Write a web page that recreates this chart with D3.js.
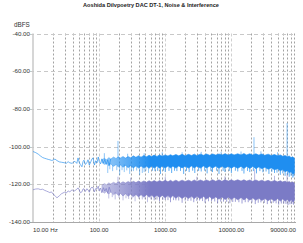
<!DOCTYPE html>
<html><head><meta charset="utf-8">
<script src="https://cdn.jsdelivr.net/npm/d3@7"></script>
<style>body{margin:0;background:#fff}svg{display:block}</style>
</head><body><svg id="c" width="303" height="243"></svg>
<script>
const title = "Aoshida Dilvpoetry DAC DT-1, Noise & Interference";
const yUnit = "dBFS";
const yTicks = [-40, -60, -80, -100, -120, -140];
const yTickLabels = ["-40.00", "-60.00", "-80.00", "-100.00", "-120.00", "-140.00"];
const xTicks = [10, 100, 1000, 10000, 90000];
const xTickLabels = ["10.00 Hz", "100.00", "1000.00", "10000.00", "90000.00"];

// low-frequency traces (Hz, dBFS)
const lowFreq   = [10, 11, 12, 13, 14, 15, 16, 17, 18, 19, 20, 21.5, 23, 25, 27, 30, 32, 34, 36, 39, 41, 43, 46, 48, 50, 52, 55, 57, 59, 62, 65, 68, 71, 75, 78, 81, 85, 89, 93, 97, 100, 105, 110, 116, 122, 128, 135, 142, 150];
const blueLow   = [-102.6, -103.2, -104, -105, -105.8, -106.2, -106.5, -106.8, -107, -107.3, -107.2, -106.6, -107.4, -108.1, -108.3, -108.6, -108.8, -108.0, -108.6, -108.9, -108.2, -107.8, -108.9, -106.0, -108.4, -109.5, -110.7, -108.0, -107.2, -109.5, -108.6, -107.0, -109.8, -108.0, -106.5, -106.0, -109.8, -107.5, -108.6, -105.5, -107.8, -109.2, -106.5, -108.8, -106.8, -109.5, -107.0, -110.0, -106.5];
const purpleLow = [-122.9, -122.5, -122.4, -122.8, -122.6, -123.2, -123.6, -124.0, -124.4, -124.0, -125.1, -126.0, -127.2, -126.1, -125.0, -124.2, -124.6, -123.5, -124.0, -122.9, -123.6, -123.4, -122.6, -121.9, -123.0, -124.5, -124.0, -122.5, -122.4, -123.8, -122.4, -122.9, -124.2, -122.0, -121.5, -121.9, -124.0, -122.2, -122.4, -121.0, -123.5, -122.0, -124.5, -121.8, -123.6, -122.2, -124.8, -121.5, -124.0];

// dense noise band envelopes (Hz, dBFS)
const bandFreq = [110,120,130,140,150,165,180,195,210,230,250,275,300,330,360,395,430,475,520,570,620,680,750,820,900,1000,1100,1200,1300,1450,1600,1800,2000,2250,2500,2750,3000,3400,3800,4200,4700,5200,5800,6500,7200,8000,9000,10000,11000,12500,14000,15500,17000,19000,21000,23500,26000,29000,32000,36000,40000,45000,50000,55000,60000,65000,70000,75000,80000,85000,90000];
const blueUpper = [-107.0,-106.2,-107.0,-105.8,-106.6,-105.5,-106.3,-105.4,-106.0,-105.2,-106.1,-105.3,-105.9,-104.9,-105.7,-104.8,-105.6,-104.7,-105.4,-104.6,-105.3,-104.5,-105.2,-104.4,-105.1,-104.4,-105.0,-104.3,-104.9,-104.2,-104.9,-104.1,-104.8,-104.1,-104.7,-104.0,-104.7,-104.0,-104.6,-103.9,-104.6,-103.9,-104.5,-103.9,-104.5,-103.8,-104.5,-103.8,-104.4,-103.8,-104.4,-103.7,-104.4,-103.8,-104.4,-103.8,-104.5,-103.9,-104.6,-104.0,-104.7,-104.2,-104.9,-104.4,-105.1,-104.7,-105.4,-105.0,-105.8,-105.4,-106.3];
const blueLower = [-108.5,-109.5,-108.8,-110.2,-109.2,-110.5,-109.6,-110.8,-109.8,-111.0,-110.0,-111.2,-110.2,-111.3,-110.3,-111.4,-110.3,-111.4,-110.4,-111.5,-110.4,-111.4,-110.3,-111.5,-110.4,-111.4,-110.3,-111.3,-110.4,-111.4,-110.3,-111.3,-110.4,-111.4,-110.3,-111.3,-110.4,-111.4,-110.3,-111.3,-110.4,-111.4,-110.4,-111.5,-110.4,-111.4,-110.5,-111.5,-110.5,-111.5,-110.5,-111.6,-110.6,-111.6,-110.6,-111.7,-110.8,-111.8,-111.0,-112.0,-111.3,-112.3,-111.7,-112.8,-112.2,-113.3,-112.8,-113.8,-113.4,-114.5,-114.2];
const purpleUpper = [-120.5,-119.6,-120.2,-119.2,-119.8,-118.9,-119.6,-118.7,-119.4,-118.6,-119.3,-118.5,-119.2,-118.4,-119.1,-118.3,-119.0,-118.2,-118.9,-118.1,-118.8,-118.0,-118.8,-118.0,-118.7,-117.9,-118.7,-117.9,-118.6,-117.8,-118.6,-117.8,-118.5,-117.8,-118.5,-117.7,-118.5,-117.7,-118.4,-117.7,-118.4,-117.6,-118.4,-117.6,-118.4,-117.6,-118.3,-117.6,-118.3,-117.6,-118.3,-117.6,-118.3,-117.7,-118.4,-117.7,-118.4,-117.8,-118.5,-117.9,-118.6,-118.0,-118.7,-118.1,-118.8,-118.3,-119.0,-118.5,-119.2,-118.7,-119.4];
const purpleLower = [-123.5,-124.8,-123.8,-125.2,-124.2,-125.6,-124.6,-126.0,-124.9,-126.2,-125.1,-126.4,-125.3,-126.6,-125.4,-126.7,-125.5,-126.8,-125.6,-126.9,-125.7,-127.0,-125.8,-127.1,-125.9,-127.2,-126.0,-127.3,-126.1,-127.4,-126.2,-127.5,-126.3,-127.5,-126.4,-127.6,-126.4,-127.7,-126.5,-127.8,-126.6,-127.8,-126.7,-127.9,-126.8,-128.0,-126.9,-128.1,-127.0,-128.2,-127.1,-128.3,-127.2,-128.4,-127.3,-128.5,-127.4,-128.6,-127.5,-128.7,-127.6,-128.8,-127.7,-128.9,-127.8,-129.0,-128.0,-129.2,-128.2,-129.4,-128.6];

// individual noise excursions [Hz, dBFS]
const blueDips = [[135,-114],[145,-112],[160,-113],[185,-112.5],[205,-115],[222,-112.5],[240,-113.5],[262,-112.6],[290,-114.5],[310,-112.8],[330,-113],[370,-112.7],[410,-115],[450,-114],[480,-113.5],[510,-112.8],[560,-114],[640,-112.8],[700,-113],[770,-112.9],[850,-114.5],[940,-112.8],[1000,-113.5],[1140,-112.9],[1250,-114],[1380,-112.8],[1500,-113],[1700,-112.9],[1900,-114.5],[2100,-112.9],[2300,-113.5],[2600,-112.8],[2800,-114],[3200,-112.9],[3500,-113.2],[3950,-112.8],[4300,-114.2],[4900,-112.9],[5200,-113.5],[6000,-112.8],[6500,-114.5],[7500,-112.9],[8000,-113.5],[9300,-112.9],[10000,-114],[11500,-112.8],[12500,-113.2],[14500,-112.9],[15500,-114.3],[17500,-112.9],[19000,-113.5],[21500,-113],[24000,-114.2],[27000,-113],[30000,-113.6],[33500,-113.2],[37000,-114.5],[41000,-113.3],[45000,-114],[49000,-113.8],[55000,-115],[60000,-114.2],[65000,-115.5],[71000,-114.8],[75000,-116],[80000,-115.4],[85000,-116.5],[88000,-115.8]];
const bluePeaks = [[120,-103.5],[193,-97],[270,-103.8],[480,-103.5],[900,-103],[1800,-103],[3500,-102.8],[7000,-102.8],[14000,-102.6],[22000,-95],[28000,-102.5],[50000,-103],[69700,-87.5]];
const purpleDips = [[140,-127.5],[158,-126.8],[175,-128],[200,-127.2],[230,-128.5],[255,-127.4],[280,-127.8],[315,-127.5],[350,-129],[400,-127.8],[450,-128],[495,-127.9],[540,-129.5],[610,-128],[680,-128.5],[750,-128.1],[820,-129],[920,-128.2],[1000,-128.3],[1100,-128.4],[1200,-129.5],[1330,-128.4],[1450,-128.5],[1600,-128.6],[1800,-129.8],[2000,-128.6],[2200,-128.8],[2450,-128.7],[2700,-129.5],[3000,-128.8],[3300,-128.6],[3650,-128.9],[4000,-129.8],[4500,-129],[5000,-129],[5600,-129.1],[6200,-130],[6900,-129.2],[7600,-129.2],[8500,-129.3],[9500,-130],[10500,-129.4],[11500,-129.3],[13000,-129.5],[14500,-130.2],[16200,-129.5],[18000,-129.5],[20500,-129.7],[23000,-130.5],[25500,-129.8],[28000,-129.6],[31500,-129.9],[35000,-130.5],[39000,-130],[43000,-129.8],[47500,-130.1],[52000,-130.8],[57000,-130.2],[62000,-130.2],[67000,-130.4],[72000,-131],[77000,-130.6],[82000,-130.5],[87000,-130.8]];
const purplePeaks = [[193,-116],[300,-116.5],[1000,-116],[3000,-116],[8000,-115.8],[22500,-112],[45000,-115.5],[69700,-114]];

const blueColor = "#1f8ef0";
const purpleColor = "#7b7bc6";

const svg = d3.select("#c");
const x = d3.scaleLog().domain([10, 95000]).range([33, 296]);
const y = d3.scaleLinear().domain([-140, -40]).range([222, 33.5]);

// horizontal fade of band density at low frequencies
const defs = svg.append("defs");
function fadeGrad(id, color) {
  const g = defs.append("linearGradient").attr("id", id).attr("gradientUnits", "userSpaceOnUse")
    .attr("x1", x(110)).attr("x2", x(600)).attr("y1", 0).attr("y2", 0);
  g.append("stop").attr("offset", 0).attr("stop-color", color).attr("stop-opacity", 0.45);
  g.append("stop").attr("offset", 1).attr("stop-color", color).attr("stop-opacity", 1);
}
fadeGrad("gb", blueColor);
fadeGrad("gp", purpleColor);

// title
svg.append("text").attr("x", 151).attr("y", 7).attr("text-anchor", "middle")
  .attr("font-family", "Liberation Sans, Arial, sans-serif").attr("font-size", 5.6)
  .attr("font-weight", "bold").attr("fill", "#222").text(title);
svg.append("text").attr("x", 14).attr("y", 27)
  .attr("font-family", "Liberation Sans, Arial, sans-serif").attr("font-size", 6.3)
  .attr("fill", "#333").text(yUnit);

// vertical grid
const gTicks = x.ticks();
svg.append("g").selectAll("line").data(gTicks.filter(t => t > 10)).join("line")
  .attr("x1", d => Math.round(x(d)) + 0.5).attr("x2", d => Math.round(x(d)) + 0.5)
  .attr("y1", y(-40)).attr("y2", y(-140))
  .attr("stroke", d => Number.isInteger(Math.log10(d)) ? "#c4c4c4" : "#8a8a8a")
  .attr("stroke-width", 0.8)
  .attr("stroke-dasharray", d => Number.isInteger(Math.log10(d)) ? "3,2" : "2,2");

// horizontal grid
svg.append("g").selectAll("line").data(yTicks.filter(t => t > -140)).join("line")
  .attr("x1", 30).attr("x2", 296)
  .attr("y1", d => Math.round(y(d)) + 0.5).attr("y2", d => Math.round(y(d)) + 0.5)
  .attr("stroke", "#c8c8c8").attr("stroke-width", 1).attr("stroke-dasharray", "4,3");

// axes lines
svg.append("line").attr("x1", 33).attr("x2", 33).attr("y1", y(-40)).attr("y2", y(-140))
  .attr("stroke", "#c8c8c8").attr("stroke-width", 1.5);
svg.append("line").attr("x1", 30).attr("x2", 296).attr("y1", Math.round(y(-140)) + 0.5).attr("y2", Math.round(y(-140)) + 0.5)
  .attr("stroke", "#a8a8a8").attr("stroke-width", 1);

// y labels
svg.append("g").selectAll("text").data(yTicks).join("text")
  .attr("x", 30).attr("y", d => y(d) + 2).attr("text-anchor", "end")
  .attr("font-family", "Liberation Sans, Arial, sans-serif").attr("font-size", 6.2)
  .attr("fill", "#333").text((d, i) => yTickLabels[i]);

// x labels
svg.append("g").selectAll("text").data(xTicks).join("text")
  .attr("x", (d, i) => i === 0 ? 33 : (i === xTicks.length - 1 ? 296 : x(d)))
  .attr("y", 232)
  .attr("text-anchor", (d, i) => i === 0 ? "start" : (i === xTicks.length - 1 ? "end" : "middle"))
  .attr("font-family", "Liberation Sans, Arial, sans-serif").attr("font-size", 6.2)
  .attr("fill", "#333").text((d, i) => xTickLabels[i]);

// data
const line = d3.line().x(d => x(d[0])).y(d => y(d[1]));
const area = d3.area().x((d, i) => x(bandFreq[i])).y0(d => y(d[1])).y1(d => y(d[0]));
const idxOf = f => Math.min(d3.bisectLeft(bandFreq, f), bandFreq.length - 1);

function drawSeries(color, gradId, low, upper, lower, dips, peaks) {
  const g = svg.append("g");
  g.append("path").datum(lowFreq.map((f, i) => [f, low[i]]))
    .attr("d", line).attr("fill", "none").attr("stroke", color).attr("stroke-width", 0.8).attr("opacity", 0.8);
  g.append("path").datum(bandFreq.map((f, i) => [upper[i], lower[i]]))
    .attr("d", area).attr("fill", `url(#${gradId})`).attr("stroke", `url(#${gradId})`).attr("stroke-width", 0.6);
  g.selectAll("line.dip").data(dips).join("line").attr("class", "dip")
    .attr("x1", d => x(d[0])).attr("x2", d => x(d[0]))
    .attr("y1", d => y(lower[idxOf(d[0])]) - 1)
    .attr("y2", d => y(d[1])).attr("stroke", color).attr("stroke-width", 0.8)
    .attr("opacity", d => d[0] < 600 ? 0.6 : 0.9);
  g.selectAll("line.pk").data(peaks).join("line").attr("class", "pk")
    .attr("x1", d => x(d[0])).attr("x2", d => x(d[0]))
    .attr("y1", d => y(upper[idxOf(d[0])]) + 1)
    .attr("y2", d => y(d[1])).attr("stroke", color).attr("stroke-width", 0.8).attr("opacity", 0.65);
}
drawSeries(purpleColor, "gp", purpleLow, purpleUpper, purpleLower, purpleDips, purplePeaks);
drawSeries(blueColor, "gb", blueLow, blueUpper, blueLower, blueDips, bluePeaks);
</script></body></html>
